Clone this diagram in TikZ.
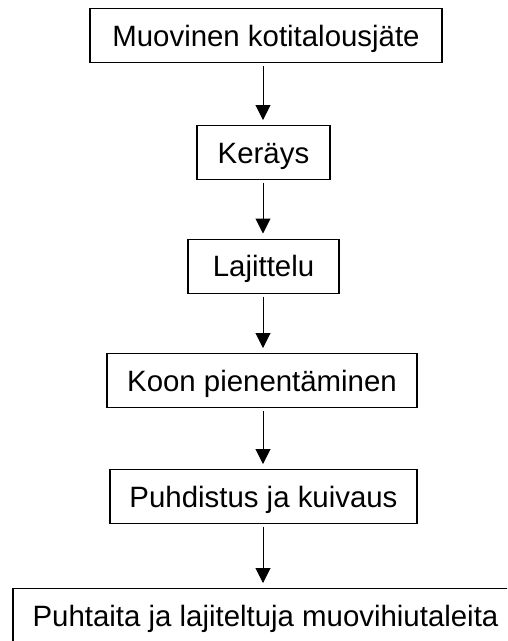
\documentclass[tikz,border=0pt]{standalone}
\usepackage{fontspec}
\setmainfont{Liberation Sans}
\usetikzlibrary{arrows.meta}
\begin{document}
\begin{tikzpicture}[x=1pt,y=-1pt,
  stepbox/.style={draw=black, line width=1.1pt, minimum height=54pt, inner sep=0pt,
    text height=21pt, text depth=0pt, font=\fontsize{29.4}{33}\selectfont, anchor=north},
  flow/.style={-{Triangle[width=15pt,length=15pt]}, line width=1pt, shorten >=5pt, shorten <=3pt}]
\useasboundingbox (0,0) rectangle (507,641);
\clip (0,0) rectangle (507,641);
\node[stepbox, minimum width=352pt] (a) at (266,8) {Muovinen kotitalousjäte};
\node[stepbox, minimum width=133pt] (b) at (263.5,125) {Keräys};
\node[stepbox, minimum width=151pt] (c) at (263.5,238.5) {Lajittelu};
\node[stepbox, minimum width=310pt] (d) at (262,353) {Koon pienentäminen};
\node[stepbox, minimum width=307pt] (e) at (263.5,469) {Puhdistus ja kuivaus};
\node[stepbox, minimum width=505pt] (f) at (265.5,588) {Puhtaita ja lajiteltuja muovihiutaleita};
\draw[flow] (a.south -| 263,0) -- (b.north -| 263,0);
\draw[flow] (b.south -| 263,0) -- (c.north -| 263,0);
\draw[flow] (c.south -| 263,0) -- (d.north -| 263,0);
\draw[flow] (d.south -| 263,0) -- (e.north -| 263,0);
\draw[flow] (e.south -| 263,0) -- (f.north -| 263,0);
\end{tikzpicture}
\end{document}
